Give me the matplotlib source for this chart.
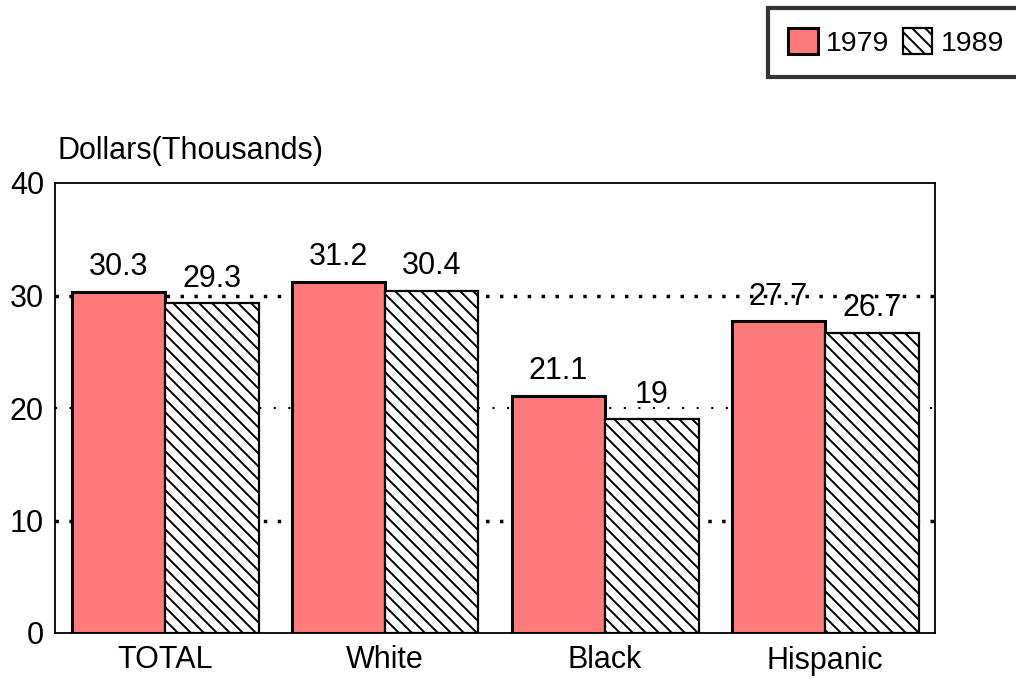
import matplotlib.pyplot as plt
import numpy as np

# hatch spacing is tied to dpi, so draw at 78 dpi and scale sizes to match
DPI = 78
S = 100 / DPI   # sizes below are written as if at 100 dpi

plt.rcParams['font.family'] = ['Liberation Sans', 'DejaVu Sans']
plt.rcParams['hatch.linewidth'] = 1.4 * S

groups = ['TOTAL', 'White', 'Black', 'Hispanic']
years = ['1979', '1989']
vals_1979 = [30.3, 31.2, 21.1, 27.7]
vals_1989 = [29.3, 30.4, 19, 26.7]
yticks = [0, 10, 20, 30, 40]

FS = 22 * S

fig = plt.figure(figsize=(1016 / DPI, 679 / DPI), dpi=DPI)
ax = fig.add_axes([55 / 1016, 1 - 633 / 679, 880 / 1016, 450 / 679])

x = np.arange(len(groups))
w = 0.425
b1 = ax.bar(x - w / 2, vals_1979, w, color='#ff7b7b', edgecolor='black',
            linewidth=2.2 * S, label=years[0], zorder=3)
b2 = ax.bar(x + w / 2, vals_1989, w, color='white', edgecolor='black',
            linewidth=1.6 * S, hatch='\\\\', label=years[1], zorder=3)

for bars, vals in [(b1, vals_1979), (b2, vals_1989)]:
    for bar, v in zip(bars, vals):
        ax.annotate(f'{v:g}', (bar.get_x() + bar.get_width() / 2, v),
                    xytext=(0, 7 * S), textcoords='offset points',
                    ha='center', va='bottom', fontsize=FS, zorder=4)

# dotted gridlines
ax.axhline(10, color='black', linestyle=(0, (1, 3)), linewidth=2.5 * S, zorder=1)
ax.axhline(20, color='black', linestyle=(0, (1, 6)), linewidth=1.5 * S, zorder=1)
ax.axhline(30, color='black', linestyle=(0, (1, 3)), linewidth=2.5 * S, zorder=1)

ax.set_xlim(-0.5, 3.5)
ax.set_ylim(0, 40)
ax.set_yticks(yticks)
ax.set_xticks(x)
ax.set_xticklabels(groups)
ax.tick_params(length=0, labelsize=FS)
ax.tick_params(axis='y', pad=8 * S)
ax.tick_params(axis='x', pad=9 * S)
for s in ax.spines.values():
    s.set_linewidth(1.3 * S)

ax.text(0.003, 1.07, 'Dollars(Thousands)', transform=ax.transAxes,
        fontsize=FS, va='center', ha='left')

LFS = 20.5 * S
leg = fig.legend(loc='upper left', bbox_to_anchor=(768 / 1016, 1 - 8 / 679),
                 ncol=2, fontsize=LFS, frameon=True, fancybox=False,
                 handlelength=1.05, handleheight=1.05, handletextpad=0.3,
                 columnspacing=0.45, borderpad=0.7, borderaxespad=0)
leg.get_frame().set_edgecolor('black')
leg.get_frame().set_linewidth(3 * S)

fig.savefig('out.png', dpi=DPI)
